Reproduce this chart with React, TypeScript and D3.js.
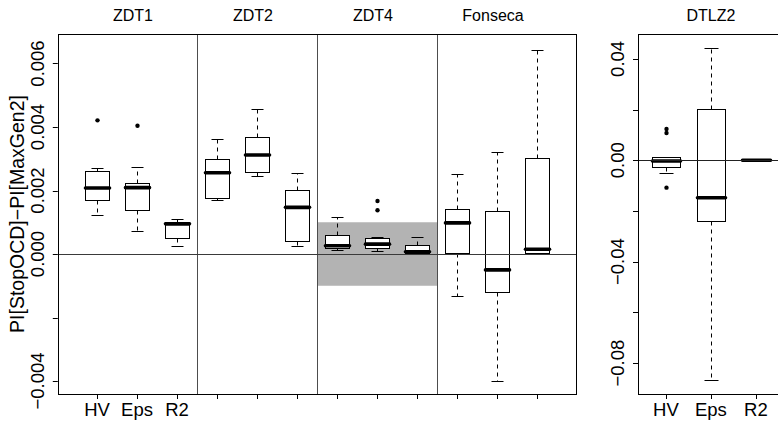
import React from "react";
import * as d3 from "d3";

const FONT = "'Liberation Sans', Arial, Helvetica, sans-serif";

// Categories
const metrics = ["HV", "Eps", "R2"];
const problems = ["ZDT1", "ZDT2", "ZDT4", "Fonseca"];
const sideProblem = "DTLZ2";
const yLabel = "PI[StopOCD]\u2212PI[MaxGen2]";

// Main panel box statistics (ZDT1 HV, Eps, R2, ZDT2 ..., ZDT4 ..., Fonseca ...)
const mainWhiskerLo = [0.00123, 0.00073, 0.00024, 0.00169, 0.00247, 0.00024, 0.00014, 0.00008, 0.00002, -0.00131, -0.004, 0.0];
const mainQ1 = [0.0017, 0.00138, 0.00051, 0.00177, 0.00257, 0.00042, 0.00018, 0.00018, 0.00004, 0.00004, -0.00119, 0.00002];
const mainMedian = [0.00208, 0.00209, 0.00095, 0.00256, 0.00312, 0.00147, 0.00026, 0.00031, 0.00007, 0.00098, -0.0005, 0.00015];
const mainQ3 = [0.0026, 0.00225, 0.001, 0.00298, 0.00367, 0.00201, 0.00061, 0.00051, 0.00028, 0.00142, 0.00136, 0.00302];
const mainWhiskerHi = [0.00271, 0.00275, 0.00109, 0.00361, 0.00457, 0.00254, 0.00117, 0.00052, 0.00054, 0.00253, 0.00322, 0.00643];
const mainOutliers: number[][] = [[0.00421], [0.00404], [], [], [], [], [], [0.00167, 0.00138], [], [], [], []];
const mainYTicks = [-0.004, -0.002, 0.0, 0.002, 0.004, 0.006];
const mainYTickLabels = ["\u22120.004", "", "0.000", "0.002", "0.004", "0.006"];
const shadeBand = [-0.001, 0.001];

// DTLZ2 panel box statistics (HV, Eps, R2)
const sideWhiskerLo = [-0.0049, -0.0868, -0.0001];
const sideQ1 = [-0.0026, -0.0241, -0.00005];
const sideMedian = [-0.0003, -0.0148, 0.0];
const sideQ3 = [0.0012, 0.0204, 0.00005];
const sideWhiskerHi = [0.0012, 0.0444, 0.0001];
const sideOutliers: number[][] = [[0.01235, 0.01077, -0.0108], [], []];
const sideYTicks = [-0.08, -0.06, -0.04, -0.02, 0.0, 0.02, 0.04];
const sideYTickLabels = ["\u22120.08", "", "\u22120.04", "", "0.00", "", "0.04"];

type Stats = { lo: number; q1: number; med: number; q3: number; hi: number; out: number[] };

const crisp = (v: number) => Math.round(v) + 0.5;

function Box({ pos, s, x, y, w }: { pos: number; s: Stats; x: any; y: any; w: number }) {
  const cx = crisp(x(pos));
  const half = Math.round((w * (x(1) - x(0))) / 2);
  const cap = Math.round(half / 2);
  const yq3 = crisp(y(s.q3));
  const yq1 = crisp(y(s.q1));
  const yhi = crisp(y(s.hi));
  const ylo = crisp(y(s.lo));
  return (
    <g>
      <line x1={cx} x2={cx} y1={yq3} y2={yhi} stroke="#000" strokeWidth={1} strokeDasharray="4,4" />
      <line x1={cx} x2={cx} y1={yq1} y2={ylo} stroke="#000" strokeWidth={1} strokeDasharray="4,4" />
      <line x1={cx - cap} x2={cx + cap} y1={yhi} y2={yhi} stroke="#000" strokeWidth={1} />
      <line x1={cx - cap} x2={cx + cap} y1={ylo} y2={ylo} stroke="#000" strokeWidth={1} />
      <rect x={cx - half} y={yq3} width={2 * half} height={Math.max(0.5, yq1 - yq3)} fill="#fff" stroke="#000" strokeWidth={1} />
      <line x1={cx - half} x2={cx + half} y1={y(s.med)} y2={y(s.med)} stroke="#000" strokeWidth={3.6} strokeLinecap="round" />
      {s.out.map((o, i) => (
        <circle key={i} cx={cx} cy={y(o)} r={2.2} fill="#000" />
      ))}
    </g>
  );
}

export default function App() {
  const W = 778;
  const H = 422;
  const top = 34;
  const bottom = 394;

  const xMain = d3.scaleLinear().domain([0.02, 12.98]).range([57.8, 576.2]);
  const yMain = d3.scaleLinear().domain([-0.004409, 0.006929]).range([bottom, top]);
  const xSide = d3.scaleLinear().domain([0.38, 3.62]).range([638, 783.8]);
  const ySide = d3.scaleLinear().domain([-0.09219, 0.04982]).range([bottom, top]);

  const mainStats: Stats[] = mainMedian.map((m, i) => ({
    lo: mainWhiskerLo[i], q1: mainQ1[i], med: m, q3: mainQ3[i], hi: mainWhiskerHi[i], out: mainOutliers[i],
  }));
  const sideStats: Stats[] = sideMedian.map((m, i) => ({
    lo: sideWhiskerLo[i], q1: sideQ1[i], med: m, q3: sideQ3[i], hi: sideWhiskerHi[i], out: sideOutliers[i],
  }));

  const positions = d3.range(1, mainStats.length + 1);
  const separators = problems.slice(1).map((_, i) => (i + 1) * metrics.length + 0.5);
  const mL = xMain(0.02), mR = xMain(12.98);
  const sL = xSide(0.38), sR = xSide(3.62);

  const tickFont = 18.5;
  const titleFont = 16;

  return (
    <svg width={W} height={H} style={{ position: "absolute", left: 0, top: 0, background: "#fff" }} fontFamily={FONT}>
      <rect x={0} y={0} width={W} height={H} fill="#fff" />

      {/* Main panel */}
      <rect x={xMain(separators[1])} y={yMain(shadeBand[1])} width={xMain(separators[2]) - xMain(separators[1])} height={yMain(shadeBand[0]) - yMain(shadeBand[1])} fill="#b3b3b3" />
      {separators.map((s) => (
        <line key={s} x1={crisp(xMain(s))} x2={crisp(xMain(s))} y1={top} y2={bottom} stroke="#4d4d4d" strokeWidth={1} />
      ))}
      {mainStats.map((s, i) => (
        <Box key={i} pos={positions[i]} s={s} x={xMain} y={yMain} w={0.6} />
      ))}
      <line x1={mL} x2={mR} y1={crisp(yMain(0))} y2={crisp(yMain(0))} stroke="#3a3a3a" strokeWidth={1} />
      <rect x={crisp(mL)} y={top + 0.5} width={Math.round(mR) - Math.round(mL)} height={bottom - top} fill="none" stroke="#000" strokeWidth={1} />
      {/* x ticks */}
      {positions.map((p) => (
        <line key={p} x1={crisp(xMain(p))} x2={crisp(xMain(p))} y1={bottom} y2={bottom + 5} stroke="#000" strokeWidth={1} />
      ))}
      {metrics.map((m, i) => (
        <text key={m} x={xMain(i + 1)} y={416} textAnchor="middle" fontSize={tickFont}>{m}</text>
      ))}
      {/* y ticks */}
      {mainYTicks.map((t, i) => (
        <g key={t}>
          <line x1={mL - 5} x2={mL} y1={crisp(yMain(t))} y2={crisp(yMain(t))} stroke="#000" strokeWidth={1} />
          <text transform={`translate(${mL - 14},${yMain(t)}) rotate(-90)`} textAnchor="middle" fontSize={tickFont}>{mainYTickLabels[i]}</text>
        </g>
      ))}
      <text transform={`translate(24,${(top + bottom) / 2}) rotate(-90)`} textAnchor="middle" fontSize={19.5}>{yLabel}</text>
      {problems.map((p, i) => (
        <text key={p} x={xMain(i * 3 + 2) - 4} y={21} textAnchor="middle" fontSize={titleFont}>{p}</text>
      ))}

      {/* DTLZ2 panel */}
      {sideStats.map((s, i) => (
        <Box key={i} pos={i + 1} s={s} x={xSide} y={ySide} w={0.6} />
      ))}
      <line x1={sL} x2={sR} y1={crisp(ySide(0))} y2={crisp(ySide(0))} stroke="#222" strokeWidth={1} />
      <rect x={crisp(sL)} y={top + 0.5} width={sR - sL} height={bottom - top} fill="none" stroke="#000" strokeWidth={1} />
      {metrics.map((m, i) => (
        <g key={m}>
          <line x1={crisp(xSide(i + 1))} x2={crisp(xSide(i + 1))} y1={bottom} y2={bottom + 5} stroke="#000" strokeWidth={1} />
          <text x={xSide(i + 1)} y={416} textAnchor="middle" fontSize={tickFont}>{m}</text>
        </g>
      ))}
      {sideYTicks.map((t, i) => (
        <g key={t}>
          <line x1={sL - 5} x2={sL} y1={crisp(ySide(t))} y2={crisp(ySide(t))} stroke="#000" strokeWidth={1} />
          <text transform={`translate(${sL - 14},${ySide(t)}) rotate(-90)`} textAnchor="middle" fontSize={tickFont}>{sideYTickLabels[i]}</text>
        </g>
      ))}
      <text x={xSide(2)} y={21} textAnchor="middle" fontSize={titleFont}>{sideProblem}</text>
    </svg>
  );
}
